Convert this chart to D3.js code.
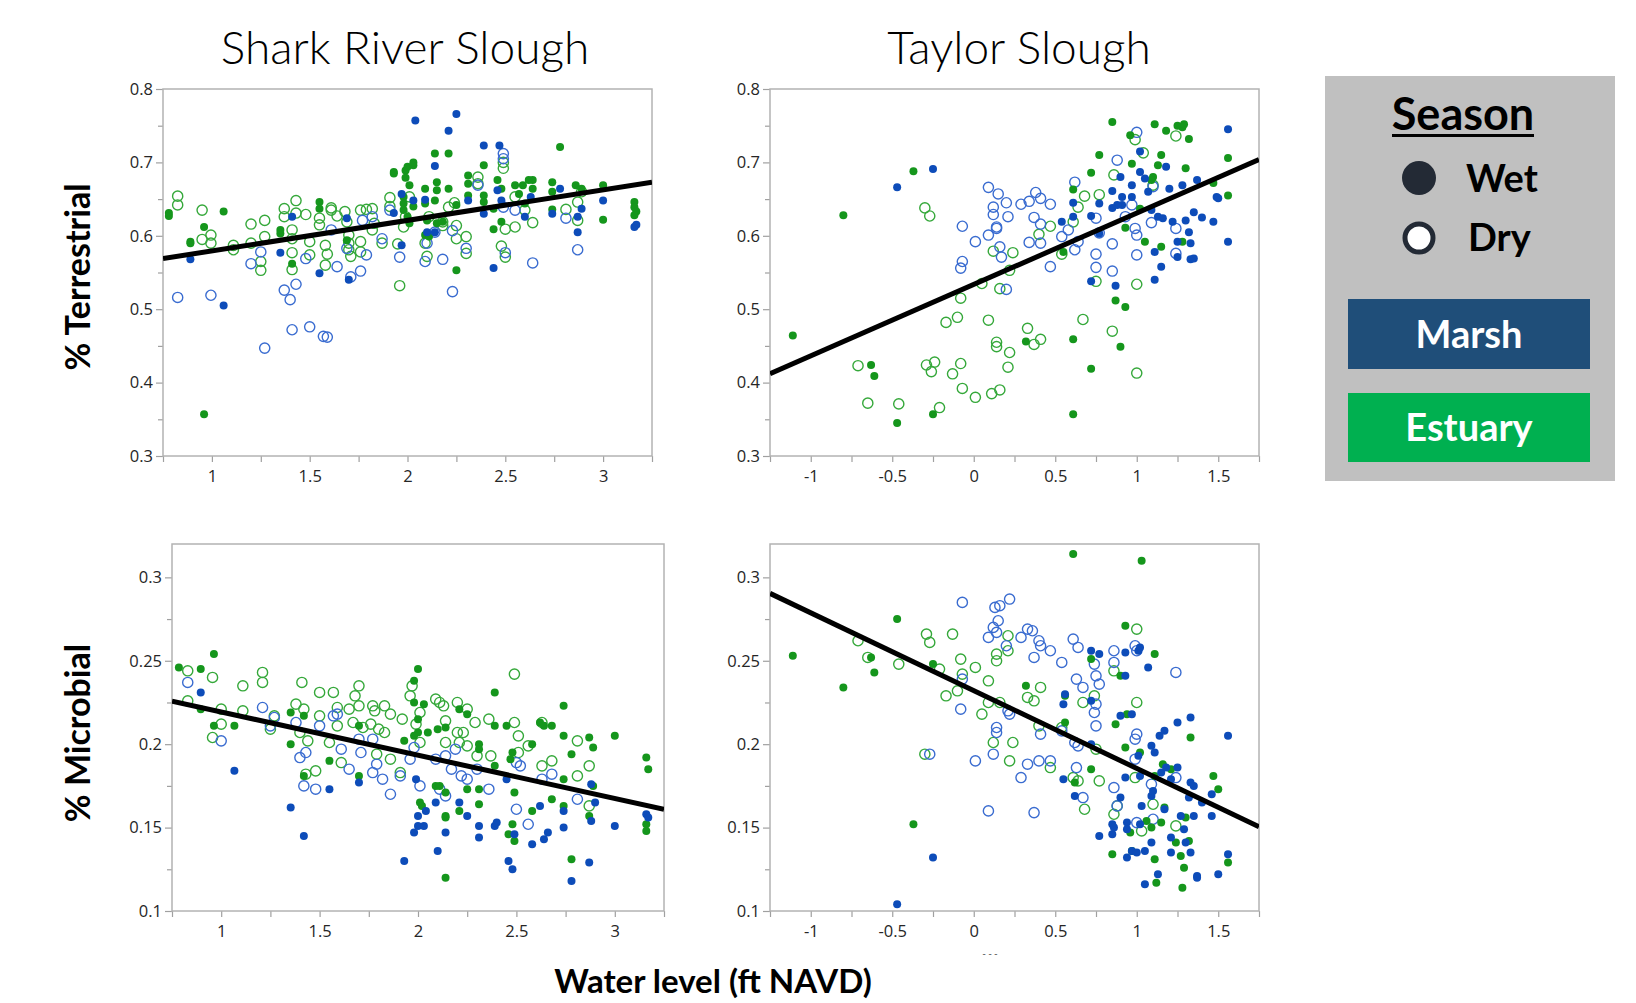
<!DOCTYPE html>
<html><head><meta charset="utf-8">
<script src="https://cdn.jsdelivr.net/npm/d3@7"></script>
<style>
html,body{margin:0;padding:0;background:#fff;}
svg{display:block;}
</style></head><body>
<svg id="chart" width="1636" height="1003"></svg>
<script>
// ---------------- DATA ----------------
const panelTitles = ["Shark River Slough", "Taylor Slough"];
const yTitles = ["% Terrestrial", "% Microbial"];
const xTitle = "Water level (ft NAVD)";
const legendTitle = "Season";
const seasonLabels = ["Wet", "Dry"];
const habitatLabels = ["Marsh", "Estuary"];

// Shark River Slough, % Terrestrial
const srsTerrEstWet = [[0.78,0.631],[0.78,0.627],[0.89,0.592],[0.89,0.590],[0.96,0.612],[0.96,0.357],[1.06,0.633],
[1.35,0.603],[1.41,0.562],[1.55,0.646],[1.55,0.637],[1.35,0.608],[1.69,0.594],
[1.93,0.687],[1.93,0.685],[1.98,0.653],[1.98,0.644],[1.99,0.689],[1.99,0.679],[2.00,0.694],[2.01,0.669],[2.03,0.696],[2.03,0.700],[2.03,0.640],[1.98,0.635],[2.00,0.626],[2.01,0.617],[2.09,0.664],[2.09,0.644],[2.10,0.621],[2.09,0.601],[2.11,0.599],
[2.14,0.712],[2.15,0.673],[2.15,0.662],[2.14,0.648],[2.21,0.712],[2.21,0.664],[2.25,0.553],[2.25,0.642],[2.31,0.682],[2.31,0.671],[2.31,0.655],[2.39,0.696],[2.39,0.655],[2.39,0.646],[2.15,0.617],[2.18,0.619],
[2.44,0.609],[2.46,0.676],[2.48,0.664],[2.48,0.619],[2.55,0.669],[2.57,0.657],[2.59,0.669],[2.62,0.676],[2.64,0.676],[2.64,0.664],[2.60,0.644],[2.44,0.637],
[2.74,0.673],[2.74,0.660],[2.74,0.636],[2.78,0.721],[2.86,0.669],[2.89,0.664],[3.00,0.669],[3.00,0.622],[3.16,0.646],[3.16,0.639],[3.17,0.633],[3.16,0.628]];
const srsTerrEstDry = [[0.825,0.654],[0.825,0.642],[0.95,0.635],[0.95,0.595],[0.995,0.601],[0.995,0.590],
[1.11,0.587],[1.11,0.581],[1.20,0.616],[1.20,0.590],[1.25,0.565],[1.25,0.553],[1.27,0.621],[1.27,0.599],
[1.37,0.637],[1.37,0.626],[1.43,0.648],[1.43,0.631],[1.41,0.608],[1.41,0.596],[1.41,0.577],[1.41,0.554],[1.48,0.629],[1.50,0.592],[1.50,0.574],[1.55,0.624],[1.55,0.615],[1.58,0.587],[1.59,0.575],[1.58,0.560],
[1.61,0.638],[1.61,0.635],[1.64,0.627],[1.68,0.633],[1.69,0.619],[1.70,0.601],[1.70,0.590],[1.70,0.581],[1.71,0.572],[1.76,0.635],[1.76,0.592],[1.76,0.578],[1.79,0.636],[1.82,0.637],[1.82,0.608],[1.87,0.590],[1.83,0.617],
[1.91,0.652],[1.91,0.640],[1.95,0.589],[1.96,0.532],[1.98,0.612],[1.99,0.626],[2.01,0.653],[2.09,0.590],[2.10,0.572],[2.11,0.626],
[2.18,0.619],[2.21,0.639],[2.24,0.645],[2.25,0.614],[2.25,0.596],[2.30,0.599],[2.30,0.576],[2.36,0.680],[2.36,0.671],[2.18,0.614],
[2.49,0.700],[2.49,0.692],[2.48,0.586],[2.50,0.609],[2.50,0.571],[2.55,0.653],[2.55,0.612],[2.64,0.618],[2.60,0.635],
[2.81,0.636],[2.87,0.646],[2.87,0.621],[2.89,0.660]];
const srsTerrMarshWet = [[0.89,0.568],[1.06,0.505],[1.35,0.577],[1.41,0.626],[1.55,0.549],[1.70,0.540],[1.69,0.624],
[1.93,0.631],[1.97,0.657],[2.03,0.648],[2.04,0.757],[1.97,0.587],[2.09,0.649],[2.10,0.605],
[2.14,0.695],[2.21,0.743],[2.25,0.766],[2.14,0.605],[2.31,0.648],[2.39,0.723],[2.39,0.630],
[2.44,0.556],[2.47,0.723],[2.46,0.662],[2.48,0.648],[2.60,0.626],[2.63,0.653],
[2.74,0.630],[2.78,0.664],[2.87,0.626],[2.87,0.605],[2.89,0.637],[3.00,0.648],[3.16,0.612],[3.17,0.615]];
const srsTerrMarshDry = [[0.825,0.516],[0.995,0.519],[1.20,0.562],[1.25,0.578],[1.27,0.447],
[1.37,0.526],[1.43,0.534],[1.40,0.513],[1.41,0.472],[1.50,0.476],[1.48,0.569],[1.57,0.463],[1.59,0.462],
[1.61,0.608],[1.64,0.558],[1.69,0.583],[1.71,0.544],[1.76,0.552],[1.77,0.621],[1.79,0.574],[1.82,0.626],[1.87,0.596],
[1.91,0.635],[1.96,0.571],[2.09,0.565],[2.10,0.590],
[2.14,0.605],[2.18,0.568],[2.23,0.524],[2.23,0.607],[2.30,0.583],[2.36,0.669],
[2.49,0.712],[2.49,0.639],[2.50,0.577],[2.55,0.635],[2.64,0.563],[2.49,0.705],
[2.81,0.624],[2.87,0.581]];
const srsTerrFit = [[0.75,0.569],[3.25,0.673]];

// Taylor Slough, % Terrestrial
const tsTerrEstWet = [[-1.11,0.464],[-0.80,0.628],[-0.37,0.688],[-0.63,0.424],[-0.61,0.409],[-0.47,0.345],[-0.25,0.357],
[0.32,0.456],[0.61,0.459],[0.61,0.357],[0.72,0.419],[0.90,0.449],[0.87,0.512],[0.93,0.503],[0.85,0.755],[0.96,0.737],[0.97,0.698],
[0.77,0.710],[0.72,0.686],[0.61,0.663],[1.11,0.752],[1.18,0.743],[1.15,0.710],[1.13,0.696],[1.25,0.750],[1.28,0.748],[1.29,0.752],[1.32,0.732],
[1.30,0.692],[1.56,0.706],[1.47,0.672],[1.56,0.655],[1.10,0.680],[1.09,0.676],[1.02,0.637],[0.93,0.611],[1.15,0.585],[1.05,0.592],[1.28,0.592],[0.55,0.578]];
const tsTerrEstDry = [[-0.71,0.423],[-0.65,0.372],[-0.46,0.371],[-0.30,0.638],[-0.27,0.627],[-0.29,0.424],[-0.26,0.415],[-0.24,0.428],[-0.21,0.366],
[-0.17,0.482],[-0.13,0.412],[-0.10,0.489],[-0.08,0.515],[-0.08,0.426],[-0.07,0.392],[0.01,0.380],[0.05,0.535],[0.09,0.485],[0.11,0.385],[0.16,0.390],
[0.12,0.579],[0.14,0.455],[0.14,0.449],[0.16,0.528],[0.21,0.421],[0.22,0.441],[0.22,0.553],[0.24,0.577],[0.33,0.474],[0.37,0.452],[0.41,0.459],
[0.40,0.602],[0.47,0.613],[0.54,0.575],[0.61,0.619],[0.64,0.639],[0.68,0.654],[0.67,0.486],[0.75,0.538],[0.77,0.656],
[0.85,0.470],[0.86,0.683],[1.00,0.534],[1.00,0.413],[0.99,0.731],[1.04,0.713],[1.24,0.736],[1.10,0.669]];
const tsTerrMarshWet = [[-0.47,0.666],[-0.25,0.691],[0.61,0.626],[0.61,0.645],[0.54,0.619],[0.72,0.627],[0.72,0.538],[0.77,0.644],[0.77,0.603],
[0.85,0.661],[0.85,0.638],[0.87,0.532],[0.90,0.680],[0.91,0.642],[0.97,0.653],[0.97,0.669],[1.02,0.687],[1.02,0.715],[1.05,0.678],[1.07,0.660],
[1.09,0.635],[1.11,0.578],[1.11,0.540],[1.13,0.626],[1.16,0.624],[1.18,0.694],[1.20,0.664],[1.22,0.619],[1.25,0.592],[1.25,0.571],[1.28,0.669],[1.30,0.621],
[1.32,0.605],[1.33,0.590],[1.33,0.568],[1.35,0.569],[1.35,0.632],[1.37,0.676],[1.40,0.625],[1.47,0.619],[1.49,0.653],[1.50,0.651],[1.56,0.592],[1.56,0.745],
[1.15,0.558],[0.91,0.653],[0.88,0.642]];
const tsTerrMarshDry = [[1.00,0.741],[0.88,0.703],[0.62,0.673],[0.09,0.666],[0.15,0.657],[0.12,0.639],[0.20,0.645],[0.12,0.629],[0.21,0.626],[0.14,0.612],[0.14,0.610],
[-0.07,0.613],[0.01,0.592],[0.09,0.601],[0.16,0.585],[0.17,0.571],[0.20,0.527],[-0.07,0.565],[-0.08,0.556],
[0.29,0.643],[0.34,0.647],[0.38,0.659],[0.41,0.651],[0.47,0.643],[0.37,0.625],[0.41,0.616],[0.34,0.591],[0.41,0.590],[0.47,0.558],
[0.54,0.599],[0.62,0.581],[0.64,0.592],[0.58,0.608],[0.75,0.624],[0.75,0.575],[0.75,0.557],[0.77,0.604],[0.85,0.589],[0.85,0.552],
[0.99,0.610],[1.00,0.601],[1.00,0.574],[1.09,0.618],[1.10,0.667],[1.24,0.610],[1.24,0.576],[0.93,0.626],[0.97,0.642]];
const tsTerrFit = [[-1.25,0.412],[1.75,0.704]];

// Shark River Slough, % Microbial
const srsMicEstWet = [[0.785,0.246],[0.896,0.245],[0.963,0.254],[0.896,0.221],[0.963,0.211],[1.067,0.211],
[1.353,0.219],[1.353,0.200],[1.42,0.181],[1.55,0.190],[1.42,0.217],[1.70,0.211],[1.70,0.181],
[2.00,0.245],[1.98,0.238],[1.98,0.225],[2.00,0.215],[2.00,0.207],[1.93,0.202],[1.98,0.205],[2.03,0.224],[2.05,0.207],[2.01,0.165],[2.02,0.163],
[2.10,0.209],[2.09,0.175],[2.11,0.175],[2.14,0.210],[2.14,0.171],[2.14,0.157],[2.14,0.156],[2.14,0.120],[2.21,0.160],[2.21,0.221],[2.25,0.218],[2.25,0.173],
[2.31,0.200],[2.31,0.197],[2.31,0.164],[2.31,0.173],[2.39,0.231],[2.39,0.211],[2.39,0.187],[2.45,0.211],[2.47,0.191],[2.48,0.195],[2.46,0.146],[2.48,0.152],
[2.49,0.171],[2.49,0.142],[2.58,0.200],[2.58,0.160],[2.62,0.213],[2.64,0.211],[2.68,0.211],[2.68,0.167],[2.74,0.223],[2.74,0.205],[2.74,0.179],[2.74,0.163],
[2.78,0.194],[2.78,0.131],[2.87,0.204],[2.89,0.198],[2.89,0.175],[2.87,0.157],[3.00,0.205],[3.16,0.192],[3.17,0.185],[3.16,0.152],[3.16,0.148]];
const srsMicEstDry = [[0.83,0.244],[0.83,0.226],[0.956,0.240],[0.956,0.204],[1.00,0.221],[1.00,0.212],[1.11,0.235],[1.11,0.220],[1.21,0.243],[1.21,0.237],[1.25,0.209],[1.27,0.217],
[1.38,0.224],[1.41,0.237],[1.42,0.221],[1.40,0.207],[1.44,0.202],[1.43,0.182],[1.48,0.184],[1.50,0.231],[1.50,0.217],[1.55,0.201],[1.57,0.231],[1.59,0.222],[1.59,0.211],
[1.61,0.189],[1.65,0.221],[1.68,0.229],[1.70,0.235],[1.70,0.223],[1.67,0.213],[1.72,0.210],[1.77,0.223],[1.78,0.220],[1.79,0.194],[1.76,0.212],[1.80,0.209],[1.83,0.207],
[1.83,0.223],[1.86,0.218],[1.86,0.191],[1.92,0.215],[1.91,0.183],
[1.96,0.229],[1.97,0.235],[2.01,0.219],[1.99,0.212],[2.01,0.201],[2.09,0.227],[2.11,0.225],[2.13,0.223],[2.14,0.214],[2.14,0.201],[2.20,0.225],[2.20,0.207],
[2.21,0.201],[2.25,0.221],[2.25,0.199],[2.23,0.207],[2.29,0.213],[2.30,0.193],[2.36,0.215],[2.37,0.193],[2.49,0.242],[2.49,0.213],[2.51,0.205],[2.51,0.195],
[2.56,0.199],[2.63,0.187],[2.68,0.190],[2.81,0.202],[2.81,0.181],[2.87,0.187],[2.87,0.163],[2.63,0.213]];
const srsMicMarshWet = [[0.896,0.231],[1.067,0.184],[1.353,0.162],[1.42,0.145],[1.55,0.173],[1.70,0.177],
[1.93,0.130],[1.99,0.179],[2.00,0.157],[2.00,0.151],[2.03,0.151],[1.98,0.147],[2.04,0.160],[2.09,0.165],[2.10,0.136],[2.14,0.147],[2.21,0.165],[2.25,0.157],
[2.31,0.151],[2.31,0.144],[2.39,0.151],[2.40,0.153],[2.45,0.179],[2.46,0.130],[2.48,0.125],[2.49,0.146],[2.58,0.140],[2.62,0.163],[2.64,0.143],[2.66,0.147],
[2.74,0.160],[2.74,0.150],[2.78,0.118],[2.87,0.129],[2.88,0.176],[2.88,0.154],[2.90,0.165],[3.00,0.151],[3.16,0.158],[3.17,0.156]];
const srsMicMarshDry = [[0.83,0.237],[1.00,0.202],[1.21,0.222],[1.25,0.211],[1.27,0.216],[1.38,0.213],[1.40,0.192],[1.43,0.195],[1.42,0.175],[1.48,0.173],[1.50,0.211],
[1.57,0.217],[1.59,0.218],[1.61,0.197],[1.65,0.185],[1.70,0.203],[1.71,0.195],[1.77,0.203],[1.77,0.183],[1.79,0.188],[1.82,0.179],[1.86,0.170],[1.91,0.181],
[1.96,0.191],[1.98,0.198],[2.01,0.175],[2.09,0.191],[2.14,0.193],[2.11,0.173],[2.14,0.169],[2.19,0.197],[2.17,0.185],[2.22,0.181],[2.25,0.179],[2.30,0.185],
[2.36,0.173],[2.50,0.189],[2.52,0.187],[2.50,0.161],[2.56,0.152],[2.63,0.179],[2.68,0.182],[2.81,0.167]];
const srsMicFit = [[0.75,0.2258],[3.25,0.161]];

// Taylor Slough, % Microbial
const tsMicEstWet = [[-1.11,0.253],[-0.80,0.234],[-0.47,0.275],[-0.63,0.252],[-0.61,0.243],[-0.37,0.152],[-0.25,0.248],[0.32,0.235],[0.56,0.229],[0.56,0.213],
[0.61,0.314],[0.72,0.251],[0.72,0.185],[0.62,0.177],[1.03,0.310],[0.93,0.271],[0.90,0.241],[0.94,0.218],[0.87,0.212],[0.93,0.198],[1.11,0.254],[1.02,0.195],
[1.16,0.188],[1.21,0.185],[1.33,0.204],[1.47,0.181],[1.50,0.173],[0.85,0.134],[0.96,0.147],[0.97,0.136],[1.06,0.154],[1.09,0.150],[1.11,0.131],[1.12,0.117],
[1.15,0.153],[1.24,0.141],[1.27,0.133],[1.29,0.126],[1.28,0.114],[1.32,0.142],[1.30,0.156],[1.56,0.129],[1.17,0.162],[1.11,0.181]];
const tsMicEstDry = [[-0.71,0.262],[-0.65,0.252],[-0.46,0.248],[-0.29,0.266],[-0.27,0.261],[-0.21,0.245],[-0.30,0.194],[-0.17,0.229],[-0.13,0.266],[-0.10,0.232],
[-0.08,0.251],[-0.07,0.242],[0.01,0.246],[0.05,0.218],[0.09,0.238],[0.09,0.225],[0.12,0.201],[0.14,0.250],[0.14,0.254],[0.16,0.225],[0.21,0.265],[0.21,0.256],
[0.22,0.190],[0.24,0.201],[0.33,0.228],[0.37,0.226],[0.41,0.234],[0.40,0.211],[0.47,0.186],[0.54,0.210],[0.61,0.180],[0.64,0.178],[0.67,0.225],[0.68,0.161],
[0.74,0.229],[0.75,0.197],[0.77,0.178],[0.86,0.244],[0.86,0.158],[0.88,0.163],[1.00,0.269],[1.00,0.225],[0.99,0.180],[1.03,0.148],[1.10,0.164],[1.24,0.151]];
const tsMicMarshWet = [[-0.47,0.104],[-0.25,0.132],[0.55,0.224],[0.56,0.230],[0.55,0.179],[0.62,0.169],[0.72,0.256],[0.77,0.254],[0.72,0.226],[0.72,0.200],
[0.77,0.145],[0.85,0.152],[0.85,0.146],[0.86,0.150],[0.90,0.217],[0.97,0.218],[0.93,0.255],[0.93,0.241],[0.90,0.168],[0.93,0.180],[0.94,0.153],[0.94,0.149],
[0.94,0.132],[0.97,0.136],[1.01,0.256],[1.02,0.258],[1.00,0.135],[1.01,0.193],[1.02,0.181],[1.03,0.163],[1.02,0.152],[1.05,0.136],[1.05,0.116],[1.07,0.246],
[1.09,0.199],[1.11,0.195],[1.09,0.169],[1.10,0.172],[1.09,0.141],[1.13,0.122],[1.14,0.205],[1.17,0.208],[1.15,0.183],[1.17,0.161],[1.18,0.186],[1.21,0.179],
[1.21,0.144],[1.21,0.135],[1.25,0.213],[1.25,0.186],[1.27,0.157],[1.29,0.149],[1.30,0.141],[1.32,0.168],[1.33,0.177],[1.33,0.216],[1.33,0.135],[1.35,0.175],
[1.35,0.157],[1.37,0.121],[1.37,0.120],[1.40,0.165],[1.46,0.157],[1.46,0.170],[1.50,0.122],[1.56,0.134],[1.56,0.205]];
const tsMicMarshDry = [[-0.07,0.285],[0.13,0.282],[0.16,0.283],[0.22,0.287],[0.15,0.274],[0.12,0.270],[0.14,0.267],[0.09,0.264],[0.20,0.259],[0.29,0.264],
[0.33,0.269],[0.36,0.268],[0.40,0.262],[0.41,0.259],[0.47,0.256],[0.37,0.252],[0.54,0.249],[0.61,0.263],[0.64,0.258],[0.63,0.239],[0.67,0.234],[0.74,0.248],
[0.75,0.241],[0.77,0.236],[0.74,0.219],[0.75,0.211],[0.86,0.256],[0.86,0.249],[0.99,0.259],[1.00,0.256],[1.24,0.243],[-0.07,0.239],[-0.08,0.221],[-0.27,0.194],
[0.01,0.190],[0.12,0.194],[0.14,0.210],[0.14,0.207],[0.21,0.220],[0.22,0.218],[0.33,0.188],[0.29,0.180],[0.40,0.190],[0.41,0.206],[0.47,0.190],[0.54,0.208],
[0.62,0.201],[0.64,0.199],[0.63,0.186],[0.67,0.168],[0.09,0.160],[0.37,0.159],[0.86,0.174],[0.88,0.163],[0.99,0.191],[1.00,0.206],[0.99,0.203],[1.00,0.153],
[1.09,0.176],[1.10,0.155],[1.24,0.180],[0.75,0.224]];
const tsMicFit = [[-1.25,0.2904],[1.75,0.1505]];

// ---------------- STYLE ----------------
const COL = {
  marshWet: "#0d4cb9", marshDry: "#3a6cd0",
  estWet: "#15961c", estDry: "#35a83a",
  frame: "#b3b3b3", tick: "#a0a0a0", text: "#262626",
  legendBg: "#c0c0c0", marshBox: "#1f4e79", estBox: "#00b050", legendDot: "#232a35"
};

const svg = d3.select("#chart");
const fmt = d => String(+d.toFixed(3));
const near = (a, b) => Math.abs(a - b) < 1e-6;
const stepVals = (lo, hi, s) => d3.range(Math.round((hi - lo) / s) + 1).map(i => +(lo + i * s).toFixed(4));

const panels = [
  {id:"p1", box:[163,89,652,456], xd:[0.75,3.25], yd:[0.3,0.8], xs:0.25, xl:0.5, ys:0.05, yl:0.1,
   ew:srsTerrEstWet, ed:srsTerrEstDry, mw:srsTerrMarshWet, md:srsTerrMarshDry, fit:srsTerrFit},
  {id:"p2", box:[770,89,1259,456], xd:[-1.25,1.75], yd:[0.3,0.8], xs:0.25, xl:0.5, ys:0.05, yl:0.1,
   ew:tsTerrEstWet, ed:tsTerrEstDry, mw:tsTerrMarshWet, md:tsTerrMarshDry, fit:tsTerrFit},
  {id:"p3", box:[172,544,664,911], xd:[0.75,3.25], yd:[0.1,0.32], xs:0.25, xl:0.5, ys:0.025, yl:0.05,
   ew:srsMicEstWet, ed:srsMicEstDry, mw:srsMicMarshWet, md:srsMicMarshDry, fit:srsMicFit},
  {id:"p4", box:[770,544,1259,911], xd:[-1.25,1.75], yd:[0.1,0.32], xs:0.25, xl:0.5, ys:0.025, yl:0.05,
   ew:tsMicEstWet, ed:tsMicEstDry, mw:tsMicMarshWet, md:tsMicMarshDry, fit:tsMicFit}
];

const isMult = (v, m) => near(Math.round(v / m) * m, v);

panels.forEach(p => {
  const [x0, y0, x1, y1] = p.box;
  const x = d3.scaleLinear().domain(p.xd).range([x0, x1]);
  const y = d3.scaleLinear().domain(p.yd).range([y1, y0]);
  const g = svg.append("g");

  svg.append("clipPath").attr("id", "clip-" + p.id)
    .append("rect").attr("x", x0).attr("y", y0).attr("width", x1 - x0).attr("height", y1 - y0);

  const xt = stepVals(p.xd[0], p.xd[1], p.xs);
  const ytv = stepVals(p.yd[0], p.yd[1] - 1e-9, p.ys).filter(v => v <= p.yd[1] + 1e-9);
  const xa = g.append("g").attr("transform", `translate(0,${y1})`)
    .call(d3.axisBottom(x).tickValues(xt).tickSize(6).tickPadding(8)
      .tickFormat(d => isMult(d, p.xl) ? fmt(d) : ""));
  const ya = g.append("g").attr("transform", `translate(${x0},0)`)
    .call(d3.axisLeft(y).tickValues(ytv).tickSize(7).tickPadding(3)
      .tickFormat(d => isMult(d, p.yl) ? fmt(d) : ""));
  [xa, ya].forEach(a => {
    a.select(".domain").remove();
    a.selectAll(".tick line").attr("stroke", COL.tick).attr("stroke-width", 1.2);
    a.selectAll(".tick text").attr("fill", COL.text)
      .style("font-family", "'Open Sans', 'Noto Sans', sans-serif").style("font-size", "16.5px");
  });
  ya.selectAll(".tick line").attr("x2", d => isMult(d, p.yl) ? -7 : -5);

  g.append("rect").attr("x", x0).attr("y", y0).attr("width", x1 - x0).attr("height", y1 - y0)
    .attr("fill", "none").attr("stroke", COL.frame).attr("stroke-width", 1.5);

  const pts = g.append("g").attr("clip-path", `url(#clip-${p.id})`);
  const openR = 5.1, dotR = 4.0;
  pts.selectAll("circle.ed").data(p.ed).join("circle").attr("class", "ed")
    .attr("cx", d => x(d[0])).attr("cy", d => y(d[1])).attr("r", openR)
    .attr("fill", "none").attr("stroke", COL.estDry).attr("stroke-width", 1.4);
  pts.selectAll("circle.md").data(p.md).join("circle").attr("class", "md")
    .attr("cx", d => x(d[0])).attr("cy", d => y(d[1])).attr("r", openR)
    .attr("fill", "none").attr("stroke", COL.marshDry).attr("stroke-width", 1.4);
  pts.selectAll("circle.ew").data(p.ew).join("circle").attr("class", "ew")
    .attr("cx", d => x(d[0])).attr("cy", d => y(d[1])).attr("r", dotR)
    .attr("fill", COL.estWet);
  pts.selectAll("circle.mw").data(p.mw).join("circle").attr("class", "mw")
    .attr("cx", d => x(d[0])).attr("cy", d => y(d[1])).attr("r", dotR)
    .attr("fill", COL.marshWet);

  pts.append("path").datum(p.fit)
    .attr("d", d3.line().x(d => x(d[0])).y(d => y(d[1])))
    .attr("stroke", "#000").attr("stroke-width", 5).attr("fill", "none");
});

// titles
const titleFont = "Lato, 'Open Sans', sans-serif";
svg.append("text").attr("x", 405).attr("y", 64).attr("text-anchor", "middle")
  .style("font-family", titleFont).style("font-weight", 300).style("font-size", "46px")
  .attr("fill", "#000").text(panelTitles[0]);
svg.append("text").attr("x", 1019).attr("y", 64).attr("text-anchor", "middle")
  .style("font-family", titleFont).style("font-weight", 300).style("font-size", "46px")
  .attr("fill", "#000").text(panelTitles[1]);

// axis titles
[[yTitles[0], 277], [yTitles[1], 733]].forEach(([t, cy]) => {
  svg.append("text").attr("transform", `translate(90,${cy}) rotate(-90)`)
    .attr("text-anchor", "middle")
    .style("font-family", titleFont).style("font-weight", 700).style("font-size", "34px")
    .attr("fill", "#000").text(t);
});
svg.append("text").attr("x", 713).attr("y", 993).attr("text-anchor", "middle")
  .style("font-family", titleFont).style("font-weight", 700).style("font-size", "33px")
  .attr("fill", "#000").text(xTitle);
svg.append("text").attr("x", 990).attr("y", 957).attr("text-anchor", "middle")
  .style("font-family", "'Open Sans', sans-serif").style("font-size", "10px")
  .attr("fill", "#555").text("-      -      -");

// legend
const lg = svg.append("g");
lg.append("rect").attr("x", 1325).attr("y", 76).attr("width", 290).attr("height", 405).attr("fill", COL.legendBg);
lg.append("text").attr("x", 1463).attr("y", 130).attr("text-anchor", "middle")
  .style("font-family", titleFont).style("font-weight", 700).style("font-size", "45px")
  .attr("fill", "#000").text(legendTitle);
lg.append("rect").attr("x", 1392).attr("y", 134).attr("width", 142).attr("height", 3).attr("fill", "#000");
lg.append("circle").attr("cx", 1419).attr("cy", 178).attr("r", 17).attr("fill", COL.legendDot);
lg.append("circle").attr("cx", 1419).attr("cy", 238).attr("r", 14).attr("fill", "#fff")
  .attr("stroke", COL.legendDot).attr("stroke-width", 5);
lg.append("text").attr("x", 1466).attr("y", 192)
  .style("font-family", titleFont).style("font-weight", 700).style("font-size", "38px")
  .attr("fill", "#000").text(seasonLabels[0]);
lg.append("text").attr("x", 1468).attr("y", 251)
  .style("font-family", titleFont).style("font-weight", 700).style("font-size", "38px")
  .attr("fill", "#000").text(seasonLabels[1]);
lg.append("rect").attr("x", 1348).attr("y", 299).attr("width", 242).attr("height", 70).attr("fill", COL.marshBox);
lg.append("text").attr("x", 1469).attr("y", 348).attr("text-anchor", "middle")
  .style("font-family", titleFont).style("font-weight", 700).style("font-size", "38px")
  .attr("fill", "#fff").text(habitatLabels[0]);
lg.append("rect").attr("x", 1348).attr("y", 393).attr("width", 242).attr("height", 69).attr("fill", COL.estBox);
lg.append("text").attr("x", 1469).attr("y", 441).attr("text-anchor", "middle")
  .style("font-family", titleFont).style("font-weight", 700).style("font-size", "38px")
  .attr("fill", "#fff").text(habitatLabels[1]);
</script>
</body></html>
